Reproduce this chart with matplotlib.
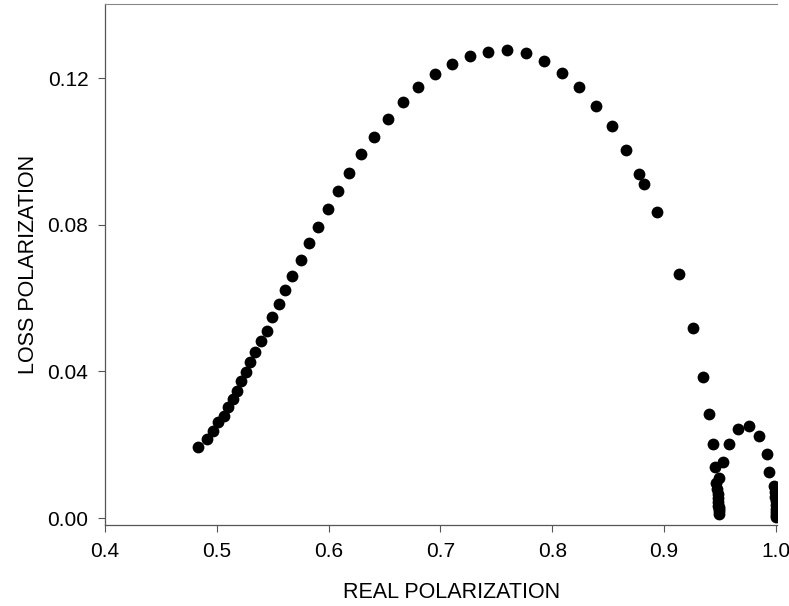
import matplotlib.pyplot as plt
import numpy as np

# real / loss polarization pairs, read along the arc from low to high real part
real_pol = [0.4834, 0.4909, 0.4969, 0.5013, 0.5064, 0.5103, 0.5142, 0.5177,
            0.5216, 0.5258, 0.5299, 0.5344, 0.5395, 0.5446, 0.5496, 0.5553,
            0.5612, 0.5675, 0.5750, 0.5824, 0.5902, 0.5991, 0.6081, 0.6182,
            0.6289, 0.6405, 0.6528, 0.6662, 0.6799, 0.6948, 0.7100, 0.7262,
            0.7422, 0.7592, 0.7762, 0.7926, 0.8090, 0.8242, 0.8388, 0.8531,
            0.8660, 0.8780, 0.8820, 0.8940, 0.9130, 0.9260, 0.9345, 0.9404,
            0.9434, 0.9452, 0.9462,
            0.9475, 0.9480, 0.9483, 0.9485, 0.9486, 0.9487, 0.9487, 0.9487,
            0.9488, 0.9493, 0.9530, 0.9580, 0.9658, 0.9760, 0.9850, 0.9920,
            0.9940, 0.9985, 0.9993, 0.9996, 0.9998, 0.9999, 1.0000, 1.0000,
            1.0000, 1.0000]
loss_pol = [0.0194, 0.0215, 0.0238, 0.0261, 0.0279, 0.0304, 0.0325, 0.0347,
            0.0374, 0.0397, 0.0425, 0.0453, 0.0482, 0.0511, 0.0549, 0.0583,
            0.0622, 0.0660, 0.0704, 0.0749, 0.0794, 0.0842, 0.0892, 0.0942,
            0.0992, 0.1040, 0.1088, 0.1134, 0.1175, 0.1210, 0.1238, 0.1260,
            0.1272, 0.1276, 0.1267, 0.1246, 0.1215, 0.1175, 0.1125, 0.1070,
            0.1003, 0.0938, 0.0911, 0.0834, 0.0665, 0.0518, 0.0385, 0.0285,
            0.0201, 0.0140, 0.0095,
            0.0078, 0.0066, 0.0054, 0.0043, 0.0033, 0.0025, 0.0018, 0.0012,
            0.0030, 0.0108, 0.0154, 0.0201, 0.0242, 0.0252, 0.0224, 0.0174,
            0.0126, 0.0087, 0.0072, 0.0058, 0.0046, 0.0035, 0.0025, 0.0016,
            0.0008, 0.0002]

x_ticks = [0.4, 0.5, 0.6, 0.7, 0.8, 0.9, 1.0]
y_ticks = [0.00, 0.04, 0.08, 0.12]

plt.rcParams['font.family'] = ['Liberation Sans', 'DejaVu Sans']

fig = plt.figure(figsize=(7.89, 6.06), dpi=100)
ax = fig.add_axes([0.1331, 0.1337, 0.8517, 0.8597])

ax.plot(real_pol, loss_pol, 'o', color='black', markersize=8.5, markeredgewidth=0)

ax.set_xlim(0.4, 1.001)
ax.set_ylim(-0.0019, 0.1402)
ax.set_xticks(x_ticks)
ax.set_xticklabels([f'{t:.1f}' for t in x_ticks])
ax.set_yticks(y_ticks)
ax.set_yticklabels([f'{t:.2f}' for t in y_ticks])

for side in ['left', 'bottom']:
    ax.spines[side].set_color('#555555')
    ax.spines[side].set_linewidth(0.9)
ax.spines['top'].set_color('#888888')
ax.spines['top'].set_linewidth(0.8)
ax.spines['right'].set_visible(False)

ax.tick_params(direction='out', length=5, width=0.8, color='#555555',
               labelsize=15, pad=7)

ax.set_xlabel('REAL POLARIZATION', fontsize=15.5)
ax.set_ylabel('LOSS POLARIZATION', fontsize=15.5)
ax.xaxis.set_label_coords(0.515, -0.11)
ax.yaxis.set_label_coords(-0.098, 0.5)

fig.savefig('out.png', dpi=100)
